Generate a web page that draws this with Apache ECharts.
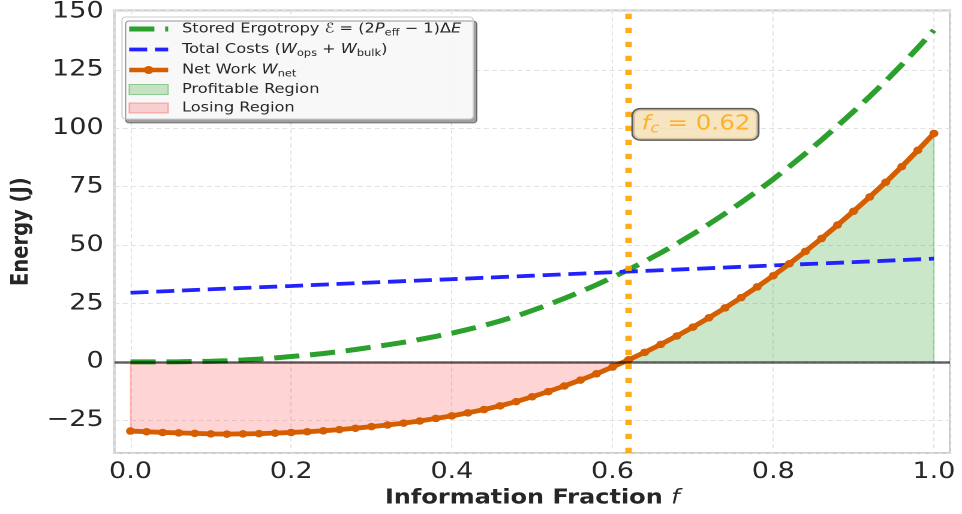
<!DOCTYPE html>
<html><head><meta charset="utf-8">
<script src="https://cdn.jsdelivr.net/npm/echarts@6/dist/echarts.min.js"></script>
<style>
html,body{margin:0;padding:0;background:#fff;overflow:hidden;width:962px;height:514px}
#chart{width:802px;height:514px;transform:scaleX(1.1995);transform-origin:0 0}
</style>
</head><body><div id="chart"></div>
<script>
// ---- data ----
const fValues = [0.00,0.02,0.04,0.06,0.08,0.10,0.12,0.14,0.16,0.18,0.20,0.22,0.24,0.26,0.28,0.30,0.32,0.34,0.36,0.38,0.40,0.42,0.44,0.46,0.48,0.50,0.52,0.54,0.56,0.58,0.60,0.62,0.64,0.66,0.68,0.70,0.72,0.74,0.76,0.78,0.80,0.82,0.84,0.86,0.88,0.90,0.92,0.94,0.96,0.98,1.00];
const ergotropy = [0.0,0.0,0.02,0.07,0.17,0.3,0.5,0.8,1.2,1.7,2.3,2.9,3.6,4.4,5.3,6.3,7.3,8.4,9.6,10.9,12.3,13.9,15.6,17.5,19.6,22.0,24.5,27.2,30.0,33.0,36.2,39.5,43.0,46.7,50.6,54.7,59.0,63.5,68.2,73.1,78.2,83.6,89.2,95.0,101.0,107.2,113.6,120.2,127.2,134.5,142.0];
const netWork = [-29.6,-29.9,-30.2,-30.4,-30.6,-30.8,-30.9,-30.8,-30.7,-30.5,-30.2,-29.9,-29.5,-29.0,-28.4,-27.7,-27.0,-26.2,-25.3,-24.2,-23.1,-21.8,-20.4,-18.8,-17.0,-14.9,-12.7,-10.3,-7.8,-5.1,-2.2,0.9,4.1,7.5,11.1,14.9,18.9,23.1,27.5,32.1,36.9,42.0,47.3,52.8,58.6,64.5,70.6,76.9,83.6,90.6,97.8];
const costF = [0.0,0.1,0.2,0.3,0.4,0.5,0.6,0.7,0.8,0.9,1.0];
const costs = [29.6,31.1,32.5,34.0,35.4,36.9,38.4,39.8,41.3,42.7,44.2];
const fCritical = 0.616;
const fCriticalText = '0.62';
const xTickValues = [0.0,0.2,0.4,0.6,0.8,1.0];
const yTickValues = [-25,0,25,50,75,100,125,150];

// ---- build series data from the arrays ----
const netPairs = fValues.map((f,i)=>[f, netWork[i]]);
const ergoPairs = fValues.map((f,i)=>[f, ergotropy[i]]);
const costPairs = costF.map((f,i)=>[f, costs[i]]);
const losingData = [[fValues[0],0]].concat(netPairs.filter(p=>p[1]<0), [[fCritical,0]]);
const profitData = [[fCritical,0]].concat(netPairs.filter(p=>p[1]>0), [[fValues[fValues.length-1],0]]);

const FONT = 'DejaVu Sans';
const GREEN = '#2ca02c', BLUE = '#2222ff', ORANGE = '#d55e00', GOLD = '#ffa500';

const legendNames = {
  ergo: 'Stored Ergotropy {i|\u2130} = (2{i|P}{s|eff} \u2212 1)\u0394{i|E}',
  cost: 'Total Costs ({i|W}{s|ops} + {i|W}{s|bulk})',
  net: 'Net Work {i|W}{s|net}',
  profit: 'Profitable Region',
  lose: 'Losing Region'
};

const chart = echarts.init(document.getElementById('chart'), null, {renderer:'canvas', devicePixelRatio: 2});
const option = {
  animation: false,
  backgroundColor: '#ffffff',
  grid: {left: 94.2, right: 10, top: 10, bottom: 61, show: true, borderColor: '#cccccc', borderWidth: 2, backgroundColor: '#ffffff'},
  xAxis: {
    type: 'value', min: -0.02, max: 1.02, minInterval: 0.2, maxInterval: 0.2,
    axisLine: {show: false}, axisTick: {show: false},
    splitLine: {show: true, lineStyle: {color: '#e2e2e2', width: 1, type: [4,3]}},
    axisLabel: {fontFamily: FONT, fontSize: 22.5, lineHeight: 20, color: '#262626', margin: 9,
      formatter: v => xTickValues.some(t=>Math.abs(t-v)<1e-6) ? v.toFixed(1) : ''},
    name: '{b|Information Fraction }{i|f}', nameLocation: 'middle', nameGap: 33,
    nameTextStyle: {rich: {
      b: {fontFamily: FONT, fontWeight: 'bold', fontSize: 20, color: '#262626'},
      i: {fontFamily: FONT, fontStyle: 'italic', fontSize: 20, color: '#262626'}
    }}
  },
  yAxis: {
    type: 'value', min: -39, max: 150.5, minInterval: 25, maxInterval: 25,
    axisLine: {show: false}, axisTick: {show: false},
    splitLine: {show: true, lineStyle: {color: '#e2e2e2', width: 1, type: [4,3]}},
    axisLabel: {fontFamily: FONT, fontSize: 22.5, lineHeight: 18, color: '#262626', margin: 9,
      formatter: v => yTickValues.some(t=>Math.abs(t-v)<1e-6) ? (v<0 ? '\u2212'+(-v) : String(v)) : ''},
    name: 'Energy (J)', nameLocation: 'middle', nameGap: 66,
    nameTextStyle: {fontFamily: FONT, fontWeight: 'bold', fontSize: 19.5, color: '#262626'}
  },
  legend: {
    orient: 'vertical', left: 101.7, top: 17,
    padding: [3, 10, 3, 3.5], itemGap: 2.5, itemWidth: 32.5, itemHeight: 10,
    backgroundColor: 'rgba(255,255,255,0.92)', borderColor: '#cccccc', borderWidth: 1, borderRadius: 3,
    shadowColor: 'rgba(0,0,0,0.4)', shadowBlur: 0, shadowOffsetX: 3, shadowOffsetY: 4,
    selectedMode: false,
    formatter: n => legendNames[n],
    textStyle: {fontFamily: FONT, fontSize: 13.5, color: '#262626', lineHeight: 16, padding: [0,0,0,6.5],
      rich: {
        i: {fontFamily: FONT, fontStyle: 'italic', fontSize: 13.5, lineHeight: 16, color: '#262626'},
        s: {fontFamily: FONT, fontSize: 9.5, lineHeight: 16, padding: [8,0,0,0], color: '#262626'}
      }},
    data: [
      {name: 'ergo', itemStyle: {color: 'rgba(0,0,0,0)', borderWidth: 0}, lineStyle: {width: 5, type: [21,9]}},
      {name: 'cost', itemStyle: {color: 'rgba(0,0,0,0)', borderWidth: 0}, lineStyle: {width: 3.8, type: [15,6.5]}},
      {name: 'net', lineStyle: {width: 4.5}},
      {name: 'profit', icon: 'rect', itemStyle: {color: 'rgba(44,160,44,0.25)', borderColor: 'rgba(44,160,44,0.45)', borderWidth: 1}},
      {name: 'lose', icon: 'rect', itemStyle: {color: 'rgba(255,0,0,0.17)', borderColor: 'rgba(255,0,0,0.3)', borderWidth: 1}}
    ]
  },
  series: [
    {name: 'lose', type: 'line', data: losingData, symbol: 'none', silent: true, z: 1,
     color: 'rgba(255,0,0,0.17)',
     lineStyle: {width: 1, color: 'rgba(255,0,0,0.25)'}, areaStyle: {color: 'rgba(255,0,0,0.17)', opacity: 1}},
    {name: 'profit', type: 'line', data: profitData, symbol: 'none', silent: true, z: 1,
     color: 'rgba(44,160,44,0.25)',
     lineStyle: {width: 1, color: 'rgba(44,160,44,0.35)'}, areaStyle: {color: 'rgba(44,160,44,0.25)', opacity: 1}},
    {name: '_zero', type: 'line', data: [], silent: true, z: 2,
     markLine: {symbol: 'none', silent: true, animation: false, label: {show: false},
       lineStyle: {color: 'rgba(0,0,0,0.6)', width: 2.5, type: 'solid'}, data: [{yAxis: 0}]}},
    {name: 'ergo', type: 'line', data: ergoPairs, symbol: 'none', z: 3, color: GREEN,
     lineStyle: {color: GREEN, width: 5, type: [21,9]}},
    {name: 'cost', type: 'line', data: costPairs, symbol: 'none', z: 3, color: BLUE,
     lineStyle: {color: BLUE, width: 3.8, type: [15,6.5]}},
    {name: 'net', type: 'line', data: netPairs, symbol: 'circle', symbolSize: 7.5, showAllSymbol: true, z: 4,
     color: ORANGE, itemStyle: {color: ORANGE}, lineStyle: {color: ORANGE, width: 4.8}},
    {name: '_fc', type: 'scatter', data: [[0.6257, 101.7]], symbolSize: 0, silent: true, z: 6,
     label: {show: true, position: 'right', distance: 0,
       formatter: '{i|f}{s|c}{n| = ' + fCriticalText + '}',
       backgroundColor: '#f5deb3', borderColor: '#333333', borderWidth: 1.5, borderRadius: 6, padding: [3,6,3,7],
       rich: {
         i: {fontFamily: FONT, fontStyle: 'italic', fontSize: 20.5, color: GOLD, lineHeight: 24},
         s: {fontFamily: FONT, fontStyle: 'italic', fontSize: 14, color: GOLD, lineHeight: 24, padding: [9,0,0,0]},
         n: {fontFamily: FONT, fontSize: 20.5, color: GOLD, lineHeight: 24}
       }},
     markLine: {symbol: 'none', silent: true, animation: false, label: {show: false},
       lineStyle: {color: GOLD, opacity: 0.9, width: 5.5, type: [5.2,8.8]}, data: [{xAxis: fCritical}]}}
  ]
};
chart.setOption(option);
</script>
</body></html>
